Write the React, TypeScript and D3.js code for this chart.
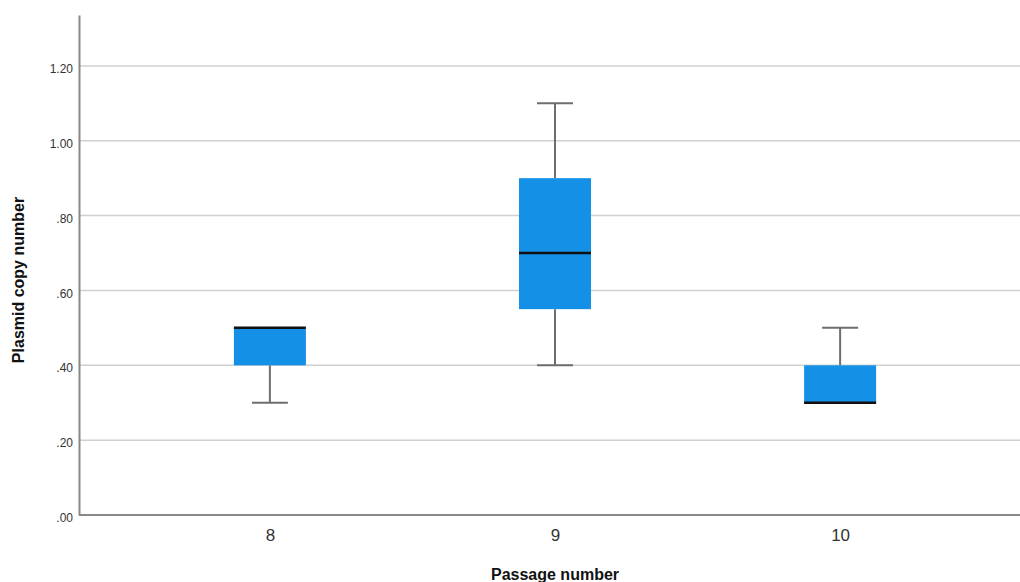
import React, { useEffect, useRef } from "react";
import * as d3 from "d3";

const categories = ["8", "9", "10"];
const mins = [0.3, 0.4, 0.3];
const q1s = [0.4, 0.55, 0.3];
const medians = [0.5, 0.7, 0.3];
const q3s = [0.5, 0.9, 0.4];
const maxs = [0.5, 1.1, 0.5];
const yTicks = [0, 0.2, 0.4, 0.6, 0.8, 1.0, 1.2];

const width = 1020;
const height = 582;

export default function App() {
  const ref = useRef<SVGSVGElement>(null);

  useEffect(() => {
    const svg = d3.select(ref.current);
    svg.selectAll("*").remove();

    // scales
    const x = d3.scalePoint<string>().domain(categories).range([80, 1030]).padding(0.666);
    const y = d3.scaleLinear().domain([0, 1.336]).range([515, 15]);
    const boxW = 72;
    const capW = 36;

    // gridlines
    svg
      .append("g")
      .selectAll("line")
      .data(yTicks.filter((d) => d > 0))
      .join("line")
      .attr("x1", 80)
      .attr("x2", width)
      .attr("y1", (d) => y(d))
      .attr("y2", (d) => y(d))
      .attr("stroke", "#d0d0d0")
      .attr("stroke-width", 1.5);

    // y axis
    const yAxis = d3
      .axisLeft(y)
      .tickValues(yTicks)
      .tickSize(0)
      .tickPadding(6)
      .tickFormat((d) => d3.format(".2f")(d as number).replace(/^0/, ""));
    const gy = svg.append("g").attr("transform", "translate(79,0)").call(yAxis);
    gy.select(".domain").attr("stroke", "#888").attr("stroke-width", 2);
    gy.selectAll("text")
      .attr("dy", "0.55em")
      .attr("font-family", "Liberation Sans, Arial, sans-serif")
      .attr("font-size", 12)
      .attr("fill", "#333");

    // x axis
    const xAxis = d3.axisBottom(x).tickSize(0).tickPadding(14);
    const gx = svg.append("g").attr("transform", "translate(0,515)").call(xAxis);
    gx.select(".domain").attr("d", `M79,0H${width}`).attr("stroke", "#888").attr("stroke-width", 2);
    gx.selectAll("text")
      .attr("font-family", "Liberation Sans, Arial, sans-serif")
      .attr("font-size", 17)
      .attr("fill", "#333");

    // boxes
    const g = svg
      .append("g")
      .selectAll("g")
      .data(categories)
      .join("g")
      .attr("transform", (d) => `translate(${x(d)},0)`);

    g.each(function (_, i) {
      const s = d3.select(this);
      if (maxs[i] > q3s[i]) {
        s.append("line").attr("x1", 0).attr("x2", 0).attr("y1", y(q3s[i])).attr("y2", y(maxs[i]))
          .attr("stroke", "#6e6e6e").attr("stroke-width", 2);
        s.append("line").attr("x1", -capW / 2).attr("x2", capW / 2).attr("y1", y(maxs[i])).attr("y2", y(maxs[i]))
          .attr("stroke", "#6e6e6e").attr("stroke-width", 2);
      }
      if (mins[i] < q1s[i]) {
        s.append("line").attr("x1", 0).attr("x2", 0).attr("y1", y(q1s[i])).attr("y2", y(mins[i]))
          .attr("stroke", "#6e6e6e").attr("stroke-width", 2);
        s.append("line").attr("x1", -capW / 2).attr("x2", capW / 2).attr("y1", y(mins[i])).attr("y2", y(mins[i]))
          .attr("stroke", "#6e6e6e").attr("stroke-width", 2);
      }
      s.append("rect")
        .attr("x", -boxW / 2)
        .attr("width", boxW)
        .attr("y", y(q3s[i]))
        .attr("height", y(q1s[i]) - y(q3s[i]))
        .attr("fill", "#1490e6");
      s.append("line").attr("x1", -boxW / 2).attr("x2", boxW / 2).attr("y1", y(medians[i])).attr("y2", y(medians[i]))
        .attr("stroke", "#111").attr("stroke-width", 2.5);
    });

    // axis titles
    svg.append("text")
      .attr("transform", "translate(24,280) rotate(-90)")
      .attr("text-anchor", "middle")
      .attr("font-family", "Liberation Sans, Arial, sans-serif")
      .attr("font-size", 16)
      .attr("font-weight", "bold")
      .attr("fill", "#111")
      .text("Plasmid copy number");

    svg.append("text")
      .attr("x", x("9")!)
      .attr("y", 580)
      .attr("text-anchor", "middle")
      .attr("font-family", "Liberation Sans, Arial, sans-serif")
      .attr("font-size", 16)
      .attr("font-weight", "bold")
      .attr("fill", "#111")
      .text("Passage number");
  }, []);

  return (
    <svg
      ref={ref}
      width={width}
      height={height}
      style={{ position: "absolute", left: 0, top: 0, background: "#fff" }}
    />
  );
}
